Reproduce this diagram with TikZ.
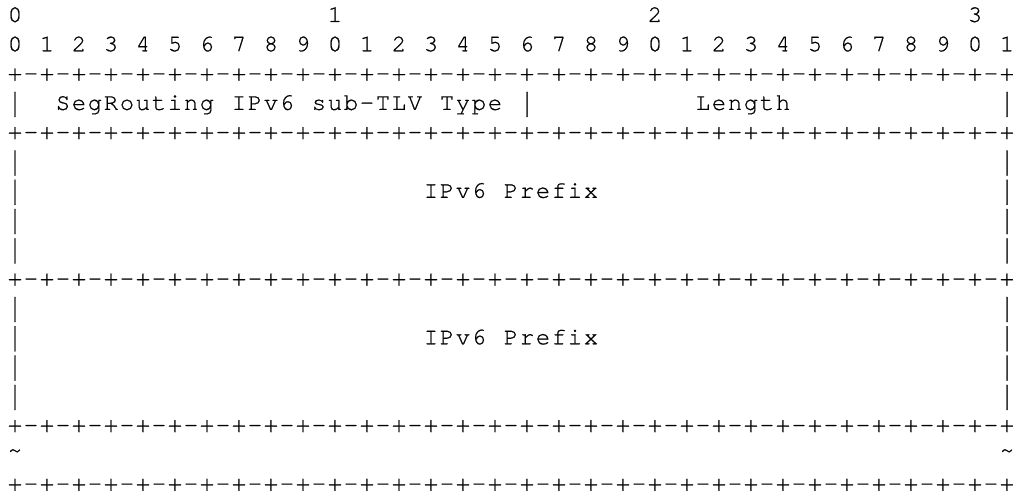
\documentclass[tikz,border=0pt]{standalone}
\usepackage{fontspec}
\newfontfamily\asciifont[FakeBold=0.6]{TeX Gyre Cursor}
\makeatletter
\newcommand\cellw{16pt}
\def\gridtext#1{\grid@loop#1\relax}
\def\grid@loop#1{\ifx#1\relax\else\makebox[\cellw][c]{\ifx#1.\else#1\fi}\expandafter\grid@loop\fi}
\makeatother
% Courier-New-like tall bar and raised tilde
\newcommand\tallbar{\raisebox{-7pt}{\resizebox{\width}{25pt}{\raisebox{\depth}{|}}}}
\newcommand\hightilde{\raisebox{4pt}{\textasciitilde}}
\tikzset{
  txt/.style={anchor=base west, inner sep=0pt, outer sep=0pt,
    font=\asciifont\fontsize{24}{28}\selectfont, text=black},
}
% column c -> x = 7 + 16 c ; row r -> baseline y = -(22 + 29.3 r)
\begin{document}
\begin{tikzpicture}[x=1pt,y=1pt]
\useasboundingbox (0,0) rectangle (1013,-494);
% row 0: byte labels
\foreach \d/\c in {0/0,1/20,2/40,3/60}
  \node[txt] (dec\d) at (7+16*\c, -22) {\gridtext{\d}};
% row 1: bit labels
\foreach \i in {0,...,31}{
  \pgfmathtruncatemacro\dig{mod(\i,10)}
  \node[txt] (bit\i) at (7+32*\i, -22-29.3) {\gridtext{\dig}};
}
% separator lines
\foreach \r/\n in {2/sepa,4/sepb,9/sepc,14/sepd,16/sepe}
  \node[txt] (\n) at (7, -22-29.3*\r)
    {\gridtext{+-+-+-+-+-+-+-+-+-+-+-+-+-+-+-+-+-+-+-+-+-+-+-+-+-+-+-+-+-+-+-+}};
% row 3: type and length
\node[txt] (barl3) at (7, -22-29.3*3) {\gridtext{\tallbar}};
\node[txt] (type) at (7+16*3, -22-29.3*3) {\gridtext{SegRouting.IPv6.sub-TLV.Type}};
\node[txt] (barm3) at (7+16*32, -22-29.3*3) {\gridtext{\tallbar}};
\node[txt] (len) at (7+16*43, -22-29.3*3) {\gridtext{Length}};
\node[txt] (barr3) at (7+16*62, -22-29.3*3) {\gridtext{\tallbar}};
% side bars of the two prefix fields
\foreach \r in {5,6,7,8,10,11,12,13}{
  \node[txt] (barl\r) at (7, -22-29.3*\r) {\gridtext{\tallbar}};
  \node[txt] (barr\r) at (7+16*62, -22-29.3*\r) {\gridtext{\tallbar}};
}
\node[txt] (pfxa) at (7+16*26, -22-29.3*6) {\gridtext{IPv6.Prefix}};
\node[txt] (pfxb) at (7+16*26, -22-29.3*11) {\gridtext{IPv6.Prefix}};
% row 15: tildes
\node[txt] (tl) at (7, -22-29.3*15) {\gridtext{\hightilde}};
\node[txt] (tr) at (7+16*62, -22-29.3*15) {\gridtext{\hightilde}};
\end{tikzpicture}
\end{document}
